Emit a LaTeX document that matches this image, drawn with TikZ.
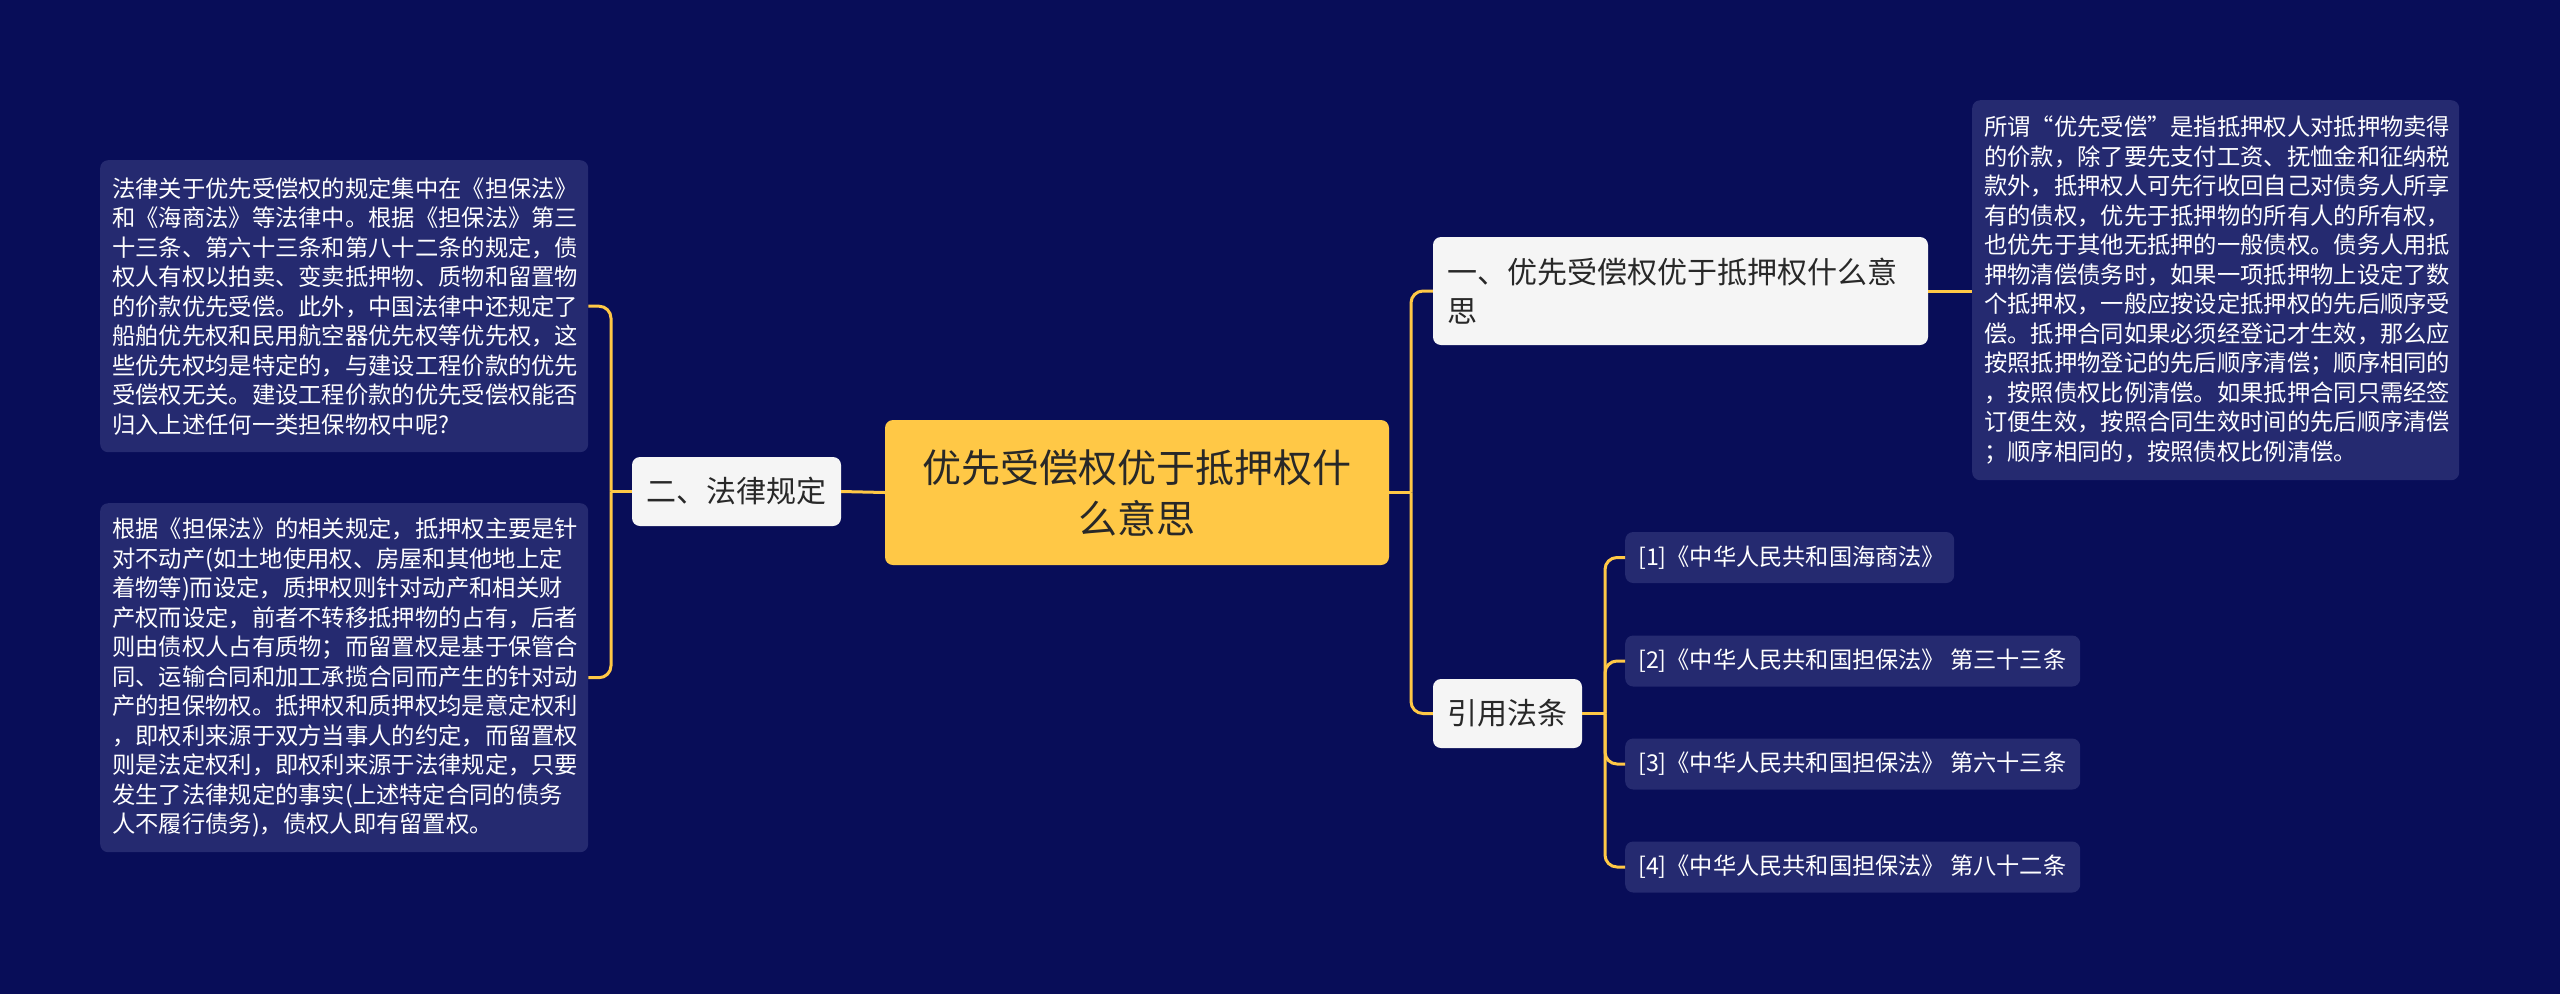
\documentclass[tikz,border=0pt]{standalone}
\usepackage{fontspec}
\setmainfont{Noto Sans CJK SC}
\definecolor{bg}{RGB}{8,13,88}
\definecolor{boxfill}{RGB}{37,42,112}
\definecolor{gold}{RGB}{255,200,70}
\definecolor{lightbox}{RGB}{245,245,245}
\definecolor{darktext}{RGB}{40,40,40}
\tikzset{
  conn/.style={draw=gold, line width=3pt, rounded corners=12pt},
  textbox/.style={fill=boxfill, rounded corners=8pt, text=white, align=left, inner xsep=12pt, inner ysep=0pt,
     font=\fontsize{23.3}{29.5}\selectfont, anchor=north west},
  titlebox/.style={fill=lightbox, rounded corners=8pt, text=darktext, font=\fontsize{30}{39}\selectfont, inner sep=0pt},
  refbox/.style={fill=boxfill, rounded corners=8pt, text=white, font=\fontsize{23.2}{28}\selectfont, inner xsep=0pt, inner ysep=0pt, anchor=west, minimum height=51pt},
  rootbox/.style={fill=gold, rounded corners=8pt, text=darktext, font=\fontsize{39}{51}\selectfont, align=center, inner sep=0pt}
}
\begin{document}
\begin{tikzpicture}[x=1pt,y=-1pt]
\fill[bg] (0,0) rectangle (2560,994);
\useasboundingbox (0,0) rectangle (2560,994);

% root
\node[rootbox, minimum width=504pt, minimum height=145pt] (root) at (1137,492.5) {优先受偿权优于抵押权什\\么意思};

% left side
\node[titlebox, minimum width=209pt, minimum height=69pt] (law) at (736.5,491.5) {二、法律规定};
\node[textbox, text width=464pt, minimum height=292pt] (box1) at (100,160) {法律关于优先受偿权的规定集中在《担保法》\\和《海商法》等法律中。根据《担保法》第三\\十三条、第六十三条和第八十二条的规定，债\\权人有权以拍卖、变卖抵押物、质物和留置物\\的价款优先受偿。此外，中国法律中还规定了\\船舶优先权和民用航空器优先权等优先权，这\\些优先权均是特定的，与建设工程价款的优先\\受偿权无关。建设工程价款的优先受偿权能否\\归入上述任何一类担保物权中呢?};
\node[textbox, text width=464pt, minimum height=349pt] (box2) at (100,503) {根据《担保法》的相关规定，抵押权主要是针\\对不动产(如土地使用权、房屋和其他地上定\\着物等)而设定，质押权则针对动产和相关财\\产权而设定，前者不转移抵押物的占有，后者\\则由债权人占有质物；而留置权是基于保管合\\同、运输合同和加工承揽合同而产生的针对动\\产的担保物权。抵押权和质押权均是意定权利\\，即权利来源于双方当事人的约定，而留置权\\则是法定权利，即权利来源于法律规定，只要\\发生了法律规定的事实(上述特定合同的债务\\人不履行债务)，债权人即有留置权。};

% right side
\node[titlebox, align=left, text width=467pt, inner xsep=14pt, minimum height=108pt] (t1) at (1680.5,291) {一、优先受偿权优于抵押权什么意\\思};
\node[textbox, text width=463pt, minimum height=380pt] (box3) at (1972,100) {所谓“优先受偿”是指抵押权人对抵押物卖得\\的价款，除了要先支付工资、抚恤金和征纳税\\款外，抵押权人可先行收回自己对债务人所享\\有的债权，优先于抵押物的所有人的所有权，\\也优先于其他无抵押的一般债权。债务人用抵\\押物清偿债务时，如果一项抵押物上设定了数\\个抵押权，一般应按设定抵押权的先后顺序受\\偿。抵押合同如果必须经登记才生效，那么应\\按照抵押物登记的先后顺序清偿；顺序相同的\\，按照债权比例清偿。如果抵押合同只需经签\\订便生效，按照合同生效时间的先后顺序清偿\\；顺序相同的，按照债权比例清偿。};
\node[titlebox, minimum width=149pt, minimum height=69pt] (cite) at (1507.5,713.5) {引用法条};
\node[refbox, minimum width=329pt] (r1) at (1625,557.5) {\makebox[303pt][l]{[1]《中华人民共和国海商法》}};
\node[refbox, minimum width=455pt] (r2) at (1625,661) {\makebox[429pt][l]{[2]《中华人民共和国担保法》 第三十三条}};
\node[refbox, minimum width=455pt] (r3) at (1625,764) {\makebox[429pt][l]{[3]《中华人民共和国担保法》 第六十三条}};
\node[refbox, minimum width=455pt] (r4) at (1625,867) {\makebox[429pt][l]{[4]《中华人民共和国担保法》 第八十二条}};

% bus coordinates
\coordinate (lbus) at (611,491.5);
\coordinate (rbus) at (1411,492.5);
\coordinate (cbus) at (1605,713.5);

% connectors
\draw[conn] (root.west) -- (law.east);
\draw[conn] (law.west) -- (lbus);
\draw[conn] (lbus) |- (box1.east);
\draw[conn] (lbus) |- (box2.east);

\draw[conn] (root.east) -- (rbus);
\draw[conn] (rbus) |- (t1.west);
\draw[conn] (rbus) |- (cite.west);
\draw[conn] (t1.east) -- (t1.east -| box3.west);

\draw[conn] (cite.east) -- (cbus);
\draw[conn] (cbus) |- (r1.west);
\draw[conn] (cbus) |- (r2.west);
\draw[conn] (cbus) |- (r3.west);
\draw[conn] (cbus) |- (r4.west);
\end{tikzpicture}
\end{document}
